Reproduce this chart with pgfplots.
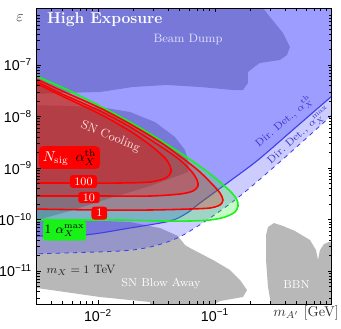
\documentclass[border=0pt]{standalone}
\usepackage{fontspec}
\usepackage{pgfplots}
\pgfplotsset{compat=1.18}
\newfontfamily\ticksf{Liberation Sans}
\definecolor{cgray}{rgb}{0.72,0.72,0.72}
\definecolor{cblue}{rgb}{0.2,0.2,1}
\definecolor{clineb}{rgb}{0.25,0.25,0.92}
\definecolor{cred}{rgb}{1,0,0}
\definecolor{cfillred}{rgb}{0.95,0,0}
\definecolor{cgreen}{rgb}{0.1,0.95,0.1}
\definecolor{dtext}{rgb}{0.2,0.2,0.8}
\begin{document}
\begin{tikzpicture}
\begin{axis}[
  name=ax, at={(0,0)}, anchor=south west,
  scale only axis, width=206.5pt, height=207.2pt,
  xmode=log, ymode=log,
  xmin=0.00301, xmax=1, ymin=2.287e-12, ymax=1.278e-6,
  xtick={0.01,0.1},
  xticklabels={10\textsuperscript{−2},10\textsuperscript{−1}},
  ytick={1e-11,1e-10,1e-9,1e-8,1e-7},
  yticklabels={10\textsuperscript{−11},10\textsuperscript{−10},10\textsuperscript{−9},10\textsuperscript{−8},10\textsuperscript{−7}},
  minor xtick={0.004,0.005,0.006,0.007,0.008,0.009,0.02,0.03,0.04,0.05,0.06,0.07,0.08,0.09,0.2,0.3,0.4,0.5,0.6,0.7,0.8,0.9},
  minor ytick={3e-12,4e-12,5e-12,6e-12,7e-12,8e-12,9e-12,2e-11,3e-11,4e-11,5e-11,6e-11,7e-11,8e-11,9e-11,2e-10,3e-10,4e-10,5e-10,6e-10,7e-10,8e-10,9e-10,2e-9,3e-9,4e-9,5e-9,6e-9,7e-9,8e-9,9e-9,2e-8,3e-8,4e-8,5e-8,6e-8,7e-8,8e-8,9e-8,2e-7,3e-7,4e-7,5e-7,6e-7,7e-7,8e-7,9e-7},
  ticklabel style={font=\ticksf\fontsize{10}{12}\selectfont},
  major tick length=3pt, minor tick length=1.8pt,
  tick style={black, line width=0.5pt},
  axis line style={line width=0.7pt},
  axis on top,
]
% ---- gray constraint regions ----
% Beam Dump
\addplot[fill=cgray, draw=none, forget plot] coordinates {
(2.624e-3,1.829e-6) (0.2522,1.829e-6) (0.2572,1.278e-6) (0.2952,8.551e-7) (0.3812,4.181e-7)
(0.4375,2.236e-7) (0.4125,1.564e-7) (0.3593,1.251e-7) (0.2424,1.094e-7) (0.2286,1e-7)
(0.1914,7.314e-8) (0.1914,4.472e-8) (0.1735,3.270e-8) (0.1425,3.270e-8) (0.07441,3.740e-8)
(0.03888,4.089e-8) (0.01991,3.740e-8) (0.0104,2.990e-8) (4.924e-3,2.859e-8) (2.624e-3,2.734e-8)
} -- cycle;
% SN Cooling
\addplot[fill=cgray, draw=none, forget plot] coordinates {
(2.624e-3,1.672e-8) (0.0104,1.529e-8) (0.01877,1.223e-8) (0.0307,7.82e-9) (0.04551,3.998e-9)
(0.05541,2.236e-9) (0.05995,1.251e-9) (0.05878,8.362e-10) (0.02783,4.472e-10) (0.01125,2.391e-10)
(5.764e-3,1.462e-10) (2.624e-3,8.944e-11)
} -- cycle;
% SN Blow Away
\addplot[fill=cgray, draw=none, forget plot] coordinates {
(2.624e-3,1.069e-10) (7.018e-3,9.779e-11) (0.01877,8.944e-11) (0.03388,6.839e-11) (0.04828,4.781e-11)
(0.05541,3.198e-11) (0.06113,2.796e-11) (0.09614,1.635e-11) (0.1343,1.046e-11) (0.1636,6.686e-12)
(0.1877,4.277e-12) (0.1735,3.127e-12) (0.1103,2.615e-12) (0.07897,1.748e-12) (0.02783,1.748e-12)
(0.02783,2.501e-12) (0.0104,3.127e-12) (2.624e-3,4.890e-12)
} -- cycle;
% BBN
\addplot[fill=cgray, draw=none, forget plot] coordinates {
(0.307,1.748e-12) (0.2838,4.890e-12) (0.2729,1.635e-11) (0.2729,5.0e-11) (0.2838,7.151e-11)
(0.3193,8.551e-11) (0.3812,7.477e-11) (0.4828,5.980e-11) (0.6486,3.998e-11) (0.7298,2.557e-11)
(0.7592,1.635e-11) (0.7897,2.557e-11) (0.8545,3.344e-11) (0.9428,3.657e-11) (1.291,3.497e-11)
(1.291,1.748e-12)
} -- cycle;
% ---- direct detection regions ----
\addplot[fill=cblue, fill opacity=0.25, draw=none, forget plot] coordinates {
(2.624e-3,2.138e-11) (0.01542,2.445e-11) (0.02783,2.924e-11) (0.04125,3.824e-11) (0.05541,5.229e-11)
(0.09064,1.069e-10) (0.1636,2.859e-10) (0.3738,1.430e-9) (1.0,1.069e-8) (1.291,1.829e-8)
(1.291,2.287e-6) (2.624e-3,2.287e-6)
} -- cycle;
\addplot[fill=cblue, fill opacity=0.3, draw=none, forget plot] coordinates {
(2.624e-3,4.781e-11) (7.592e-3,5.0e-11) (0.01877,6.839e-11) (0.04125,9.352e-11) (0.05764,1.337e-10)
(0.07441,2.091e-10) (0.1343,5.591e-10) (0.2331,1.430e-9) (0.4828,5.980e-9) (1.0,2.501e-8)
(1.291,4.089e-8) (1.291,2.287e-6) (2.624e-3,2.287e-6)
} -- cycle;
\addplot[clineb, line width=0.6pt, dashed, smooth, forget plot] coordinates {
(2.624e-3,2.138e-11) (0.01542,2.445e-11) (0.02783,2.924e-11) (0.04125,3.824e-11) (0.05541,5.229e-11)
(0.09064,1.069e-10) (0.1636,2.859e-10) (0.3738,1.430e-9) (1.0,1.069e-8) (1.291,1.829e-8)
};
\addplot[clineb, line width=0.8pt, smooth, forget plot] coordinates {
(2.624e-3,4.781e-11) (7.592e-3,5.0e-11) (0.01877,6.839e-11) (0.04125,9.352e-11) (0.05764,1.337e-10)
(0.07441,2.091e-10) (0.1343,5.591e-10) (0.2331,1.430e-9) (0.4828,5.980e-9) (1.0,2.501e-8)
(1.291,4.089e-8)
};
% ---- signal contours ----
% green: 1 alpha_X^max
\addplot[fill=cgreen, fill opacity=0.25, draw=none, smooth, forget plot] coordinates {
(2.624e-3,6.995e-8) (3.888e-3,4.676e-8) (5.764e-3,3.127e-8) (0.0104,1.599e-8) (0.01877,7.82e-9)
(0.03388,3.497e-9) (0.05541,1.710e-9) (0.08214,9.146e-10) (0.1103,5.348e-10) (0.1397,3.270e-10)
(0.1542,2.391e-10) (0.1573,1.829e-10) (0.1482,1.398e-10) (0.1218,1.118e-10) (0.09064,9.779e-11)
(0.06113,9.352e-11) (0.03388,9.352e-11) (0.01542,9.779e-11) (7.018e-3,9.779e-11) (2.624e-3,9.779e-11)
} -- cycle;
% red: 1, 10, 100 alpha_X^th
\addplot[fill=cfillred, fill opacity=0.25, draw=none, smooth, forget plot] coordinates {
(2.624e-3,6.115e-8) (4.734e-3,3.270e-8) (0.0104,1.462e-8) (0.01877,7.151e-9) (0.03388,3.198e-9)
(0.05541,1.430e-9) (0.07441,8.362e-10) (0.09614,4.676e-10) (0.1103,3.270e-10) (0.117,2.391e-10)
(0.1103,1.912e-10) (0.09064,1.672e-10) (0.06113,1.599e-10) (0.02783,1.529e-10) (0.0104,1.529e-10)
(2.624e-3,1.599e-10)
} -- cycle;
\addplot[fill=cfillred, fill opacity=0.25, draw=none, smooth, forget plot] coordinates {
(2.624e-3,5.591e-8) (4.734e-3,2.859e-8) (0.0104,1.279e-8) (0.01877,6.253e-9) (0.03388,2.674e-9)
(0.05022,1.430e-9) (0.06359,8.362e-10) (0.07018,5.848e-10) (0.07157,4.472e-10) (0.06486,3.576e-10)
(0.05022,3.127e-10) (0.02783,2.859e-10) (0.0104,2.859e-10) (2.624e-3,2.859e-10)
} -- cycle;
\addplot[fill=cfillred, fill opacity=0.25, draw=none, smooth, forget plot] coordinates {
(2.624e-3,5.114e-8) (4.734e-3,2.615e-8) (0.0104,1.118e-8) (0.01877,5.229e-9) (0.02783,2.796e-9)
(0.03738,1.564e-9) (0.04125,1.094e-9) (0.04206,8.362e-10) (0.03812,6.394e-10) (0.02783,5.348e-10)
(0.01542,5.114e-10) (7.018e-3,5.114e-10) (2.624e-3,5.114e-10)
} -- cycle;
% contour lines
\addplot[cgreen, line width=1.1pt, smooth, forget plot] coordinates {
(2.624e-3,6.995e-8) (3.888e-3,4.676e-8) (5.764e-3,3.127e-8) (0.0104,1.599e-8) (0.01877,7.82e-9)
(0.03388,3.497e-9) (0.05541,1.710e-9) (0.08214,9.146e-10) (0.1103,5.348e-10) (0.1397,3.270e-10)
(0.1542,2.391e-10) (0.1573,1.829e-10) (0.1482,1.398e-10) (0.1218,1.118e-10) (0.09064,9.779e-11)
(0.06113,9.352e-11) (0.03388,9.352e-11) (0.01542,9.779e-11) (7.018e-3,9.779e-11) (2.624e-3,9.779e-11)
};
\addplot[cred, line width=1.1pt, smooth, forget plot] coordinates {
(2.624e-3,6.115e-8) (4.734e-3,3.270e-8) (0.0104,1.462e-8) (0.01877,7.151e-9) (0.03388,3.198e-9)
(0.05541,1.430e-9) (0.07441,8.362e-10) (0.09614,4.676e-10) (0.1103,3.270e-10) (0.117,2.391e-10)
(0.1103,1.912e-10) (0.09064,1.672e-10) (0.06113,1.599e-10) (0.02783,1.529e-10) (0.0104,1.529e-10)
(2.624e-3,1.599e-10)
};
\addplot[cred, line width=1.1pt, smooth, forget plot] coordinates {
(2.624e-3,5.591e-8) (4.734e-3,2.859e-8) (0.0104,1.279e-8) (0.01877,6.253e-9) (0.03388,2.674e-9)
(0.05022,1.430e-9) (0.06359,8.362e-10) (0.07018,5.848e-10) (0.07157,4.472e-10) (0.06486,3.576e-10)
(0.05022,3.127e-10) (0.02783,2.859e-10) (0.0104,2.859e-10) (2.624e-3,2.859e-10)
};
\addplot[cred, line width=1.1pt, smooth, forget plot] coordinates {
(2.624e-3,5.114e-8) (4.734e-3,2.615e-8) (0.0104,1.118e-8) (0.01877,5.229e-9) (0.02783,2.796e-9)
(0.03738,1.564e-9) (0.04125,1.094e-9) (0.04206,8.362e-10) (0.03812,6.394e-10) (0.02783,5.348e-10)
(0.01542,5.114e-10) (7.018e-3,5.114e-10) (2.624e-3,5.114e-10)
};
\end{axis}
% ---- annotations ----
\node[anchor=west, text=white, font=\fontsize{11}{13}\selectfont\bfseries] at (3.5pt,198.8pt) {High Exposure};
\node[text=blue!12!white, font=\fontsize{8.5}{10}\selectfont] at (105.7pt,184.8pt) {Beam Dump};
\node[text=red!10!white, rotate=-22, font=\fontsize{8.5}{10}\selectfont] at (51.5pt,117pt) {SN Cooling};
\node[fill=cred, rounded corners=3pt, minimum width=42.7pt, minimum height=16pt, inner sep=1pt, font=\fontsize{10}{12}\selectfont] at (22.75pt,102.5pt) {\textcolor{white}{$N_{\mathrm{sig}}$}\enspace$\alpha_X^{\mathrm{th}}$};
\node[fill=cred, text=white, rounded corners=2pt, minimum width=19pt, minimum height=9pt, inner sep=0.5pt, font=\fontsize{8}{9}\selectfont] at (32.55pt,85.75pt) {100};
\node[fill=cred, text=white, rounded corners=2pt, minimum width=15pt, minimum height=8pt, inner sep=0.5pt, font=\fontsize{8}{9}\selectfont] at (36.4pt,74.55pt) {10};
\node[fill=cred, text=white, rounded corners=2pt, minimum width=11pt, minimum height=9pt, inner sep=0.5pt, font=\fontsize{8}{9}\selectfont] at (43.65pt,63.6pt) {1};
\node[fill=cgreen, rounded corners=2pt, minimum width=30pt, minimum height=14pt, inner sep=1pt, font=\fontsize{9}{11}\selectfont] at (19.25pt,51.3pt) {$1\ \alpha_X^{\mathrm{max}}$};
\node[text=black!85, font=\fontsize{8.5}{10}\selectfont] at (30.8pt,23.8pt) {$m_X=1$ TeV};
\node[text=white, font=\fontsize{8}{10}\selectfont] at (86.8pt,14pt) {SN Blow Away};
\node[text=white, font=\fontsize{8}{10}\selectfont] at (181.65pt,13.3pt) {BBN};
\node[text=dtext, rotate=41, font=\fontsize{7.3}{9}\selectfont] at (172.8pt,127.5pt) {Dir.\ Det., $\alpha_X^{\mathrm{th}}$};
\node[text=dtext, rotate=42, font=\fontsize{7.3}{9}\selectfont] at (183.6pt,118pt) {Dir.\ Det., $\alpha_X^{\mathrm{max}}$};
\node[text=black!80, font=\fontsize{11}{13}\selectfont] at (-11.9pt,200.2pt) {$\varepsilon$};
\node[text=black!80, font=\fontsize{10}{12}\selectfont] at (188.3pt,-6.3pt) {$m_{A'}$ [GeV]};
\pgfresetboundingbox
\path[use as bounding box] (-25.9pt,-17.5pt) rectangle (212.8pt,212.8pt);
\end{tikzpicture}
\end{document}
